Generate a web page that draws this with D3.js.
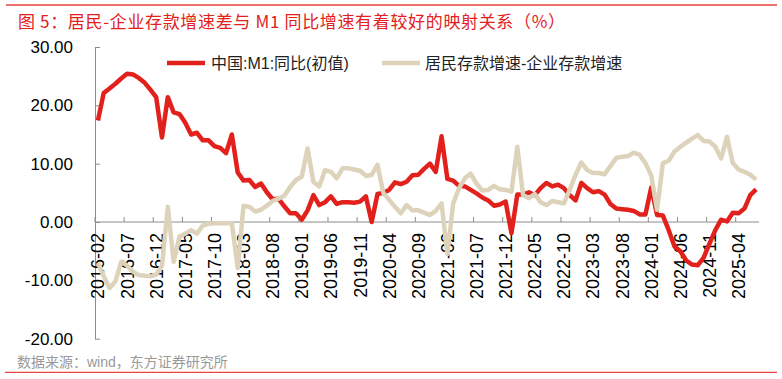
<!DOCTYPE html>
<html>
<head>
<meta charset="utf-8">
<script src="https://cdn.jsdelivr.net/npm/d3@7/dist/d3.min.js"></script>
<style>
  html, body { margin: 0; padding: 0; background: #fff; }
  svg { display: block; }
</style>
</head>
<body>
<svg id="chart" width="782" height="379"></svg>
<script>
// ---------------- DATA ----------------
const titleText = "图 5：居民-企业存款增速差与 M1 同比增速有着较好的映射关系（%）";
const sourceText = "数据来源：wind，东方证券研究所";
const seriesNames = ["中国:M1:同比(初值)", "居民存款增速-企业存款增速"];

// monthly categories 2016-02 .. 2025-07
const months = d3.timeMonth.range(new Date(2016, 1, 1), new Date(2025, 7, 1)).map(d3.timeFormat("%Y-%m"));

const m1 = [
  17.4, 22.1, 22.9, 23.7, 24.6, 25.4, 25.3, 24.7, 23.9, 22.7, 21.4,
  14.5, 21.4, 18.8, 18.5, 17.0, 15.0, 15.3, 14.0, 14.0, 13.0, 12.7, 11.8,
  15.0, 8.5, 7.1, 7.2, 6.0, 6.6, 5.1, 3.9, 4.0, 2.7, 1.5, 1.5,
  0.4, 2.0, 4.6, 2.9, 3.4, 4.4, 3.1, 3.4, 3.4, 3.3, 3.5, 4.4,
  0.0, 4.8, 5.0, 5.5, 6.8, 6.5, 6.9, 8.0, 8.1, 9.1, 10.0, 8.6,
  14.7, 7.4, 7.1, 6.2, 6.1, 5.5, 4.9, 4.2, 3.7, 2.8, 3.0, 3.5,
  -1.9, 4.7, 4.7, 5.1, 4.6, 5.8, 6.7, 6.1, 6.4, 5.8, 4.6, 3.7,
  6.7, 5.8, 5.1, 5.3, 4.7, 3.1, 2.3, 2.2, 2.1, 1.9, 1.3, 1.3,
  5.9, 1.2, 1.1, -1.4, -4.2, -5.0, -6.6, -7.3, -7.4, -6.1, -3.7, -1.4,
  0.4, 0.1, 1.6, 1.5, 2.3, 4.6, 5.6
];

const depositGap = [
  -7.0, -9.3, -11.3, -10.2, -6.8, -7.5, -8.5, -9.1, -9.2, -9.3, -9.0,
  -7.5, 2.6, -6.8, -2.5, -2.0, -1.4, -2.0, -0.6, -0.3, -0.2, -0.2, -0.2,
  -0.2, -7.9, 2.8, 2.6, 1.8, 2.1, 2.8, 3.6, 4.0, 4.5, 6.0, 7.2,
  7.8, 12.6, 6.9, 6.1, 8.9, 8.6, 7.5, 9.2, 9.2, 9.0, 8.8, 7.9,
  8.1, 9.8, 5.0, 3.8, 2.6, 1.5, 2.9, 2.0, 2.0, 1.6, 1.2, 1.9,
  3.2, -5.5, 3.2, 5.8, 7.5, 8.3, 6.6, 5.4, 5.5, 6.2, 5.6, 5.5,
  5.2, 12.9, 4.6, 4.1, 4.8, 3.4, 2.9, 3.6, 3.4, 3.2, 5.5, 8.1,
  10.2, 8.9, 8.4, 8.4, 8.2, 9.6, 11.0, 11.2, 11.3, 11.9, 11.5, 10.1,
  8.0, 2.1, 10.1, 10.5, 12.1, 12.9, 13.6, 14.3, 14.9, 13.9, 13.8, 12.9,
  10.9, 14.6, 10.1, 9.0, 8.6, 8.1, 7.3
];

const yTicks = [-20, -10, 0, 10, 20, 30];
const xTickLabels = [
  "2016-02", "2016-07", "2016-12", "2017-05", "2017-10", "2018-03", "2018-08",
  "2019-01", "2019-06", "2019-11", "2020-04", "2020-09", "2021-02", "2021-07",
  "2021-12", "2022-05", "2022-10", "2023-03", "2023-08", "2024-01", "2024-06",
  "2024-11", "2025-04"
];

// ---------------- STYLE ----------------
const RED = "#e3211c";
const BEIGE = "#ddd3bb";
const AXIS = "#8c8c8c";
const latin = "'Liberation Sans', Arial, 'Noto Sans CJK SC', sans-serif";

const svg = d3.select("#chart");

// scales
const x = d3.scaleBand().domain(months).range([95, 759]).paddingInner(0).paddingOuter(0);
const bw = x.bandwidth();
const y = d3.scaleLinear().domain([-20, 30]).range([338.7, 47]);

// header rules
svg.append("line").attr("x1", 6).attr("x2", 777).attr("y1", 5).attr("y2", 5)
  .attr("stroke", "#e8453f").attr("stroke-width", 1.5);
svg.append("line").attr("x1", 5).attr("x2", 777).attr("y1", 372.3).attr("y2", 372.3)
  .attr("stroke", "#e8453f").attr("stroke-width", 1.2);

// title
svg.append("text")
  .attr("x", 18).attr("y", 20)
  .attr("dominant-baseline", "central")
  .attr("fill", RED)
  .attr("font-family", "'Noto Sans CJK SC', sans-serif")
  .attr("font-size", 17)
  .attr("textLength", 547)
  .attr("lengthAdjust", "spacing")
  .text(titleText);

// y axis
const yAxis = d3.axisLeft(y)
  .tickValues(yTicks)
  .tickSizeInner(-5)
  .tickSizeOuter(0)
  .tickPadding(22)
  .tickFormat(d => d.toFixed(2));
const gy = svg.append("g").attr("transform", "translate(95,0)").call(yAxis);
gy.select(".domain").attr("stroke", AXIS).attr("stroke-width", 1);
gy.selectAll(".tick line").attr("stroke", AXIS).attr("stroke-width", 1);
gy.selectAll(".tick text")
  .attr("font-family", latin).attr("font-size", 17).attr("fill", "#000");

// x axis at y=0
const gx = svg.append("g");
gx.append("line")
  .attr("x1", 95).attr("x2", 759)
  .attr("y1", y(0)).attr("y2", y(0))
  .attr("stroke", AXIS).attr("stroke-width", 1);
gx.selectAll("line.xt").data(xTickLabels).join("line")
  .attr("class", "xt")
  .attr("x1", d => x(d)).attr("x2", d => x(d))
  .attr("y1", y(0)).attr("y2", y(0) - 5)
  .attr("stroke", AXIS).attr("stroke-width", 1);
gx.selectAll("text.xl").data(xTickLabels).join("text")
  .attr("class", "xl")
  .attr("transform", d => `translate(${x(d) + bw / 2},${y(0) + 11}) rotate(-90)`)
  .attr("text-anchor", "end")
  .attr("dy", "0.36em")
  .attr("font-family", latin).attr("font-size", 18).attr("fill", "#000")
  .text(d => d);

// lines
const line = d3.line()
  .x((d, i) => x(months[i]) + bw / 2)
  .y(d => y(d));

svg.append("path").datum(m1)
  .attr("d", line)
  .attr("fill", "none").attr("stroke", RED).attr("stroke-width", 4.5)
  .attr("stroke-linejoin", "round").attr("stroke-linecap", "butt");

svg.append("path").datum(depositGap)
  .attr("d", line)
  .attr("fill", "none").attr("stroke", BEIGE).attr("stroke-width", 4.5)
  .attr("stroke-linejoin", "round").attr("stroke-linecap", "butt");

// legend
const legend = [
  { name: seriesNames[0], color: RED, x1: 167, x2: 205, tx: 211 },
  { name: seriesNames[1], color: BEIGE, x1: 382, x2: 420, tx: 425 }
];
const lg = svg.append("g");
legend.forEach(l => {
  lg.append("line").attr("x1", l.x1).attr("x2", l.x2).attr("y1", 63).attr("y2", 63)
    .attr("stroke", l.color).attr("stroke-width", 4.5);
  lg.append("text").attr("x", l.tx).attr("y", 63)
    .attr("dominant-baseline", "central")
    .attr("font-family", latin).attr("font-size", 16).attr("fill", "#222")
    .text(l.name);
});

// source
svg.append("text")
  .attr("x", 17).attr("y", 361.5)
  .attr("dominant-baseline", "central")
  .attr("font-family", latin).attr("font-size", 14).attr("fill", "#999")
  .text(sourceText);
</script>
</body>
</html>
